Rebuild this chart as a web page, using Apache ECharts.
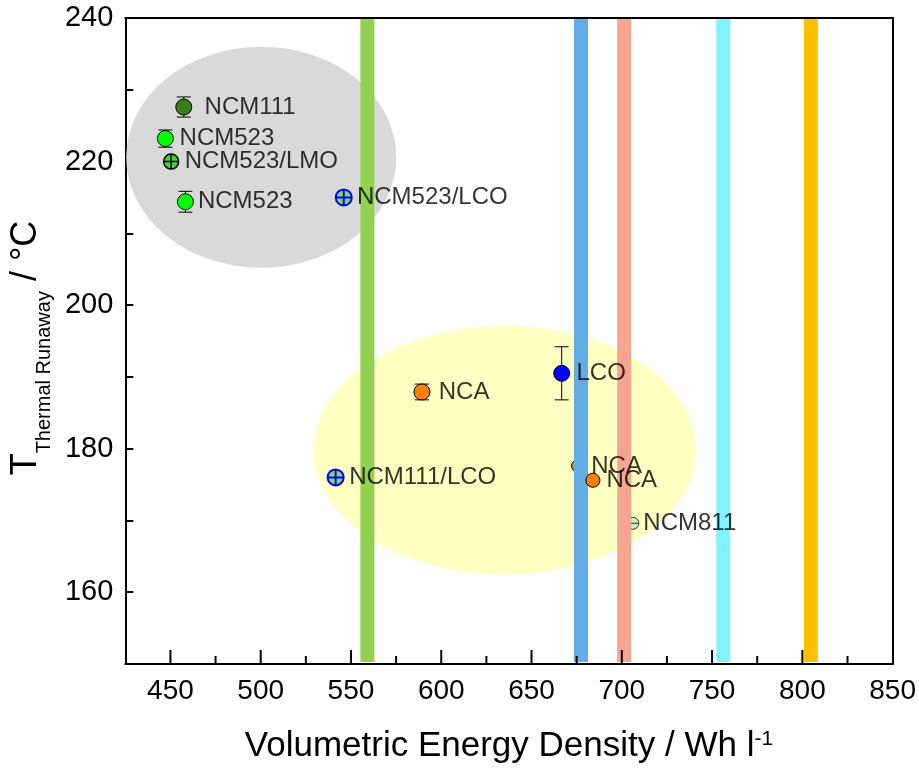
<!DOCTYPE html>
<html><head><meta charset="utf-8">
<script src="https://cdn.jsdelivr.net/npm/echarts@6/dist/echarts.min.js"></script>
<style>html,body{margin:0;padding:0;background:#fff}#c{width:919px;height:769px}</style>
</head><body><div id="c"></div>
<script>
// ---------- data ----------
const pointNames = ['NCM111','NCM523','NCM523/LMO','NCM523','NCM523/LCO','NCA','LCO','NCM111/LCO','NCA','NCA','NCM811'];
const pointX     = [457.4, 447.2, 450.4, 458.3, 546.0, 589.3, 666.7, 541.5, 675.5, 684.0, 706.1];
const pointY     = [227.6, 223.2, 220.0, 214.4, 215.0, 187.9, 190.5, 176.0, 177.6, 175.6, 169.6];
const pointErr   = [1.4, 1.2, 0, 1.45, 0, 1.1, 3.7, 0, 0, 0, 0];
const pointKinds = ['ncm111','ncm523','mixLMO','ncm523','mixLCO','nca','lco','mixLCO','nca','nca','ncm811'];

const bandX = [559.1, 677.4, 701.3, 756.2, 804.7];

const ellipseCenterX = [500.3, 635.3];
const ellipseCenterY = [220.6, 179.8];
const ellipseHalfW   = [74.8, 106.0];
const ellipseHalfH   = [15.4, 17.3];

const xMajorTicks = [450, 500, 550, 600, 650, 700, 750, 800];
const xMinorTicks = [475, 525, 575, 625, 675, 725, 775, 825];

// ---------- styles ----------
const FONT = 'Liberation Sans, Arial, sans-serif';
const bandColors = ['#92d050', '#62ade6', '#f5a590', '#7ff3ff', '#ffc000'];
const ellipseColors = ['#d9d9d9', '#ffffc2'];
const crossPath = 'path://M10,0 A10,10 0 1,1 10,20 A10,10 0 1,1 10,0 Z M10,0 L10,20 M0,10 L20,10';
const hLinePath = 'path://M10,0 A10,10 0 1,1 10,20 A10,10 0 1,1 10,0 Z M0,10 L20,10';
const kindStyles = {
  ncm111: {symbol: 'circle', size: 16, color: '#3a7d1c', border: '#000', bw: 1},
  ncm523: {symbol: 'circle', size: 16, color: '#00ff00', border: '#000', bw: 1},
  mixLMO: {symbol: crossPath, size: 15, color: '#44d144', border: '#000', bw: 1.5},
  mixLCO: {symbol: crossPath, size: 16, color: '#80dd5a', border: '#0000ff', bw: 2},
  nca:    {symbol: 'circle', size: 16, color: '#ff8000', border: '#000', bw: 1},
  lco:    {symbol: 'circle', size: 16, color: '#0000ff', border: '#000', bw: 1},
  ncm811: {symbol: hLinePath, size: 12, color: '#c8eec0', border: '#333', bw: 1}
};
const sizeOverride = {8: 12, 9: 14};
const behindBars = [8, 10];
const labelDistance = [12.8, 6.2, 5.5, 4.5, 5.2, 8.8, 6.8, 5.5, 5.7, 5.5, 2.5];

function markerItem(i) {
  const s = kindStyles[pointKinds[i]];
  return {
    value: [pointX[i], pointY[i]],
    symbol: s.symbol,
    symbolSize: sizeOverride[i] || s.size,
    itemStyle: {color: s.color, borderColor: s.border, borderWidth: s.bw, opacity: 1}
  };
}
const idx = pointNames.map((_, i) => i);
const frontData = idx.filter(i => behindBars.indexOf(i) < 0).map(markerItem);
const backData = idx.filter(i => behindBars.indexOf(i) >= 0).map(markerItem);
const labelData = idx.map(i => ({
  name: pointNames[i],
  value: [pointX[i], pointY[i]],
  label: {distance: labelDistance[i]}
}));
const errData = idx.filter(i => pointErr[i] > 0).map(i => [pointX[i], pointY[i], pointErr[i]]);

const chart = echarts.init(document.getElementById('c'), null, {renderer: 'canvas'});
chart.setOption({
  animation: false,
  backgroundColor: '#fff',
  grid: {left: 124, right: 25, top: 18, bottom: 105, containLabel: false},
  xAxis: [{
    type: 'value', min: 425, max: 850, interval: 25, position: 'bottom',
    axisLine: {show: true, onZero: false, lineStyle: {color: '#000', width: 2}},
    axisTick: {show: false},
    splitLine: {show: false},
    axisLabel: {formatter: v => (v % 50 === 0 ? String(v) : ''), fontSize: 28, color: '#000', fontFamily: FONT, margin: 13},
    name: '{a|Volumetric Energy Density / Wh l}{b|-1}',
    nameLocation: 'middle', nameGap: 65,
    nameTextStyle: {
      fontFamily: FONT, color: '#000',
      rich: {
        a: {fontSize: 35, fontFamily: FONT, color: '#000', verticalAlign: 'top'},
        b: {fontSize: 21, fontFamily: FONT, color: '#000', verticalAlign: 'top'}
      }
    }
  }, {
    type: 'value', min: 425, max: 850, position: 'top',
    axisLine: {show: true, onZero: false, lineStyle: {color: '#000', width: 2}},
    axisTick: {show: false}, axisLabel: {show: false}, splitLine: {show: false}
  }],
  yAxis: [{
    type: 'value', min: 150, max: 240, interval: 10, position: 'left',
    axisLine: {show: true, onZero: false, lineStyle: {color: '#000', width: 2}},
    axisTick: {show: true, inside: true, length: 8, lineStyle: {color: '#000', width: 2}},
    splitLine: {show: false},
    axisLabel: {formatter: v => (v % 20 === 0 ? String(v) : ''), fontSize: 29, color: '#000', fontFamily: FONT, margin: 12},
    name: '{t|T}{s|Thermal Runaway}{e| / °C}',
    nameLocation: 'middle', nameRotate: 90, nameGap: 68,
    nameTextStyle: {
      fontFamily: FONT, color: '#000',
      rich: {
        t: {fontSize: 36, fontFamily: FONT, color: '#000', verticalAlign: 'bottom', padding: [0, 0, 10, 0]},
        s: {fontSize: 20, fontFamily: FONT, color: '#000', verticalAlign: 'bottom'},
        e: {fontSize: 36, fontFamily: FONT, color: '#000', verticalAlign: 'bottom', padding: [0, 14, 10, 0]}
      }
    }
  }, {
    type: 'value', min: 150, max: 240, position: 'right',
    axisLine: {show: true, onZero: false, lineStyle: {color: '#000', width: 2}},
    axisTick: {show: false}, axisLabel: {show: false}, splitLine: {show: false}
  }],
  series: [
    {
      type: 'custom', name: 'ellipses', z: 1, silent: true, clip: true,
      data: ellipseCenterX.map((x, i) => [x, ellipseCenterY[i], ellipseHalfW[i], ellipseHalfH[i]]),
      renderItem: function (params, api) {
        const c = api.coord([api.value(0), api.value(1)]);
        const s = api.size([api.value(2), api.value(3)]);
        return {
          type: 'circle', x: c[0], y: c[1], scaleX: s[0] / s[1], scaleY: 1,
          shape: {cx: 0, cy: 0, r: s[1]},
          style: {fill: ellipseColors[params.dataIndex]}
        };
      }
    },
    {
      type: 'scatter', name: 'behind', z: 2, silent: true, data: backData
    },
    {
      type: 'custom', name: 'bands', z: 3, silent: true,
      data: bandX.map(x => [x, 150]),
      renderItem: function (params, api) {
        const x = api.value(0);
        const top = api.coord([x, 240]);
        const bot = api.coord([x, 150]);
        return {
          type: 'rect',
          shape: {x: top[0] - 7, y: top[1] + 1, width: 14, height: bot[1] - top[1] - 3},
          style: {fill: bandColors[params.dataIndex]}
        };
      }
    },
    {
      type: 'custom', name: 'errors', z: 4, silent: true,
      data: errData,
      renderItem: function (params, api) {
        const x = api.value(0), y = api.value(1), e = api.value(2);
        const t = api.coord([x, y + e]);
        const b = api.coord([x, y - e]);
        const st = {stroke: '#000', lineWidth: 1};
        return {
          type: 'group', children: [
            {type: 'line', shape: {x1: t[0], y1: t[1], x2: b[0], y2: b[1]}, style: st},
            {type: 'line', shape: {x1: t[0] - 7, y1: t[1], x2: t[0] + 7, y2: t[1]}, style: st},
            {type: 'line', shape: {x1: b[0] - 7, y1: b[1], x2: b[0] + 7, y2: b[1]}, style: st}
          ]
        };
      }
    },
    {
      type: 'scatter', name: 'front', z: 5, silent: true, data: frontData
    },
    {
      type: 'scatter', name: 'labels', z: 10, silent: true,
      symbol: 'circle', symbolSize: 16,
      itemStyle: {color: 'rgba(0,0,0,0)'},
      label: {show: true, position: 'right', formatter: p => p.name, fontSize: 24, color: '#000', fontFamily: FONT},
      data: labelData
    },
    {
      type: 'custom', name: 'xticks', z: 6, silent: true,
      data: xMajorTicks.map(v => [v, 150, 1]).concat(xMinorTicks.map(v => [v, 150, 0])),
      renderItem: function (params, api) {
        const p = api.coord([api.value(0), api.value(1)]);
        const len = api.value(2) ? 13 : 7;
        return {type: 'line', shape: {x1: p[0], y1: p[1] - 1, x2: p[0], y2: p[1] - 1 - len}, style: {stroke: '#000', lineWidth: 2}};
      }
    }
  ]
});
</script>
</body></html>
